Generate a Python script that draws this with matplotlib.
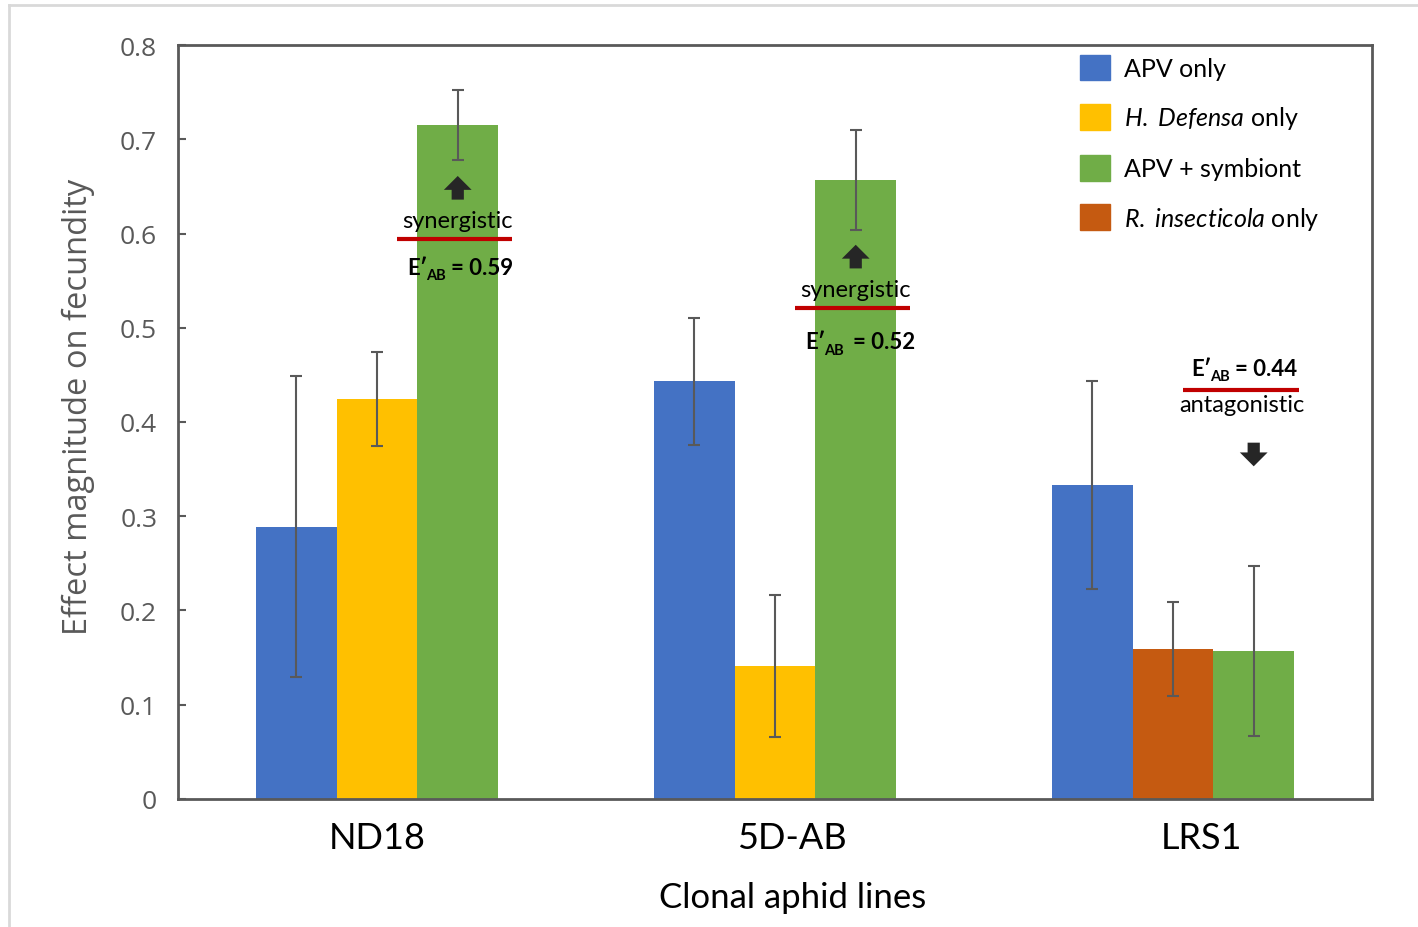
import numpy as np
import matplotlib.pyplot as plt
from matplotlib.patches import Patch
from matplotlib.lines import Line2D

plt.rcParams['mathtext.fontset'] = 'custom'
plt.rcParams['mathtext.rm'] = 'Lato'
plt.rcParams['mathtext.it'] = 'Lato:italic'
plt.rcParams['mathtext.bf'] = 'Lato:bold'

# Data ------------------------------------------------------------------------
lines = ['ND18', '5D-AB', 'LRS1']
apv_only = [0.289, 0.443, 0.333]
apv_err = [0.160, 0.067, 0.110]
symb_only = [0.424, 0.141, 0.159]      # H. defensa (ND18, 5D-AB), R. insecticola (LRS1)
symb_err = [0.050, 0.075, 0.050]
apv_symb = [0.715, 0.657, 0.157]
apv_symb_err = [0.037, 0.053, 0.090]
e_ab = ['0.59', '0.52', '0.44']
effect = ['synergistic', 'synergistic', 'antagonistic']

C_BLUE, C_YEL, C_GRN, C_ORG = '#4472C4', '#FFC000', '#70AD47', '#C55A11'
GRAY = '#595959'
RED = '#C00000'

# Plot ------------------------------------------------------------------------
fig = plt.figure(figsize=(14.18, 9.28), dpi=100)
ax = fig.add_axes([0.1255, 0.138, 0.842, 0.8124])
x = np.arange(len(lines)) + 0.5
w = 0.203
symb_cols = [C_YEL, C_YEL, C_ORG]
ekw = dict(ecolor=GRAY, elinewidth=1.5, capsize=4.5, capthick=1.5)
ax.bar(x - w, apv_only, w, color=C_BLUE, yerr=apv_err, error_kw=ekw, zorder=2)
ax.bar(x, symb_only, w, color=symb_cols, yerr=symb_err, error_kw=ekw, zorder=2)
ax.bar(x + w, apv_symb, w, color=C_GRN, yerr=apv_symb_err, error_kw=ekw, zorder=2)

ax.set_xlim(0, 3)
ax.set_ylim(0, 0.8)
ax.set_yticks(np.arange(0, 0.81, 0.1))
ax.set_yticklabels(['0'] + ['{:.1f}'.format(v) for v in np.arange(0.1, 0.81, 0.1)])
ax.set_xticks(x)
ax.set_xticklabels([])
ax.tick_params(axis='x', length=0)
ax.tick_params(axis='y', direction='in', length=6, width=1.5, color=GRAY,
               labelcolor=GRAY, labelsize=19, pad=15)
for lbl in ax.get_yticklabels():
    lbl.set_family('Open Sans')
for s in ax.spines.values():
    s.set_color(GRAY)
    s.set_linewidth(2)
# category labels sit a little right of the group centres in the original
for (xi, lbl, dx) in zip(x, lines, [0, 12.2, 20.9]):
    ax.annotate(lbl, (xi, 0), xycoords=ax.get_xaxis_transform(),
                xytext=(dx, -27.5), textcoords='offset points',
                ha='center', va='center', fontsize=26, family='Lato')
ax.set_ylabel('Effect magnitude on fecundity', fontsize=23.5, color=GRAY,
              family='Open Sans', va='center')
ax.yaxis.set_label_coords(-0.0838, 0.522)
ax.set_xlabel('Clonal aphid lines', fontsize=25, family='Lato', va='center')
ax.xaxis.set_label_coords(0.515, -0.13)

# Annotations -----------------------------------------------------------------
ARW = dict(arrowstyle='simple,head_width=1.0,head_length=0.5,tail_width=0.44',
           color='#262626', lw=0, mutation_scale=20)
BOLD = dict(fontweight='bold', family=['Lato', 'DejaVu Sans'], va='center', ha='left',
            textcoords='offset points')


def eq_label(x0, y0, val, gap):
    # E'_AB = value, built from pieces (offsets in points)
    ax.annotate('E\u2032', (x0, y0), xytext=(0, 0), fontsize=16, **BOLD)
    ax.annotate('AB', (x0, y0), xytext=(13.6, -5.5), fontsize=10.5, **BOLD)
    ax.annotate('= ' + val, (x0, y0), xytext=(gap, 0), fontsize=16, **BOLD)


# synergistic (ND18, 5D-AB) ----------------------------------------------------
arrow_tip = [0.664, 0.591]
txt_y = [0.614, 0.541]
line_y = [0.594, 0.521]
eq_y = [0.564, 0.485]
eq_x = [0.577, 1.575]
eq_gap = [31, 34.5]
for i in range(2):
    xc = x[i] + w
    ax.annotate('', xy=(xc, arrow_tip[i]), xytext=(xc, arrow_tip[i] - 0.031),
                arrowprops=ARW)
    ax.text(xc, txt_y[i], effect[i], ha='center', va='center',
            fontsize=17, family='Lato')
    ax.plot([xc - 0.152, xc + 0.136], [line_y[i]] * 2, color=RED, lw=3,
            solid_capstyle='butt')
    eq_label(eq_x[i], eq_y[i], e_ab[i], eq_gap[i])

# antagonistic (LRS1) ---------------------------------------------------------
xc = x[2] + 0.172
eq_label(2.547, 0.457, e_ab[2], 31)
ax.plot([xc - 0.146, xc + 0.146], [0.434] * 2, color=RED, lw=3, solid_capstyle='butt')
ax.text(xc, 0.419, effect[2], ha='center', va='center', fontsize=17, family='Lato')
ax.annotate('', xy=(x[2] + w, 0.350), xytext=(x[2] + w, 0.381), arrowprops=ARW)

# Legend ----------------------------------------------------------------------
handles = [Patch(color=C_BLUE), Patch(color=C_YEL), Patch(color=C_GRN), Patch(color=C_ORG)]
labels = ['APV only', r'$\mathit{H.}$ $\mathit{Defensa}$ only', 'APV + symbiont',
          r'$\mathit{R.}$ $\mathit{insecticola}$ only']
leg = ax.legend(handles, labels, loc='upper left', bbox_to_anchor=(0.737, 1.017),
                frameon=False, prop={'family': 'Lato', 'size': 18},
                handlelength=1.2, handleheight=1.2, handletextpad=0.55,
                labelspacing=0.95)

# Outer border
fig.add_artist(Line2D([0.006, 0.006], [0, 0.994], color='#D9D9D9', lw=2))
fig.add_artist(Line2D([0.006, 1.0], [0.994, 0.994], color='#D9D9D9', lw=2))

plt.savefig('out.png', dpi=100, facecolor='w')
plt.close('all')
